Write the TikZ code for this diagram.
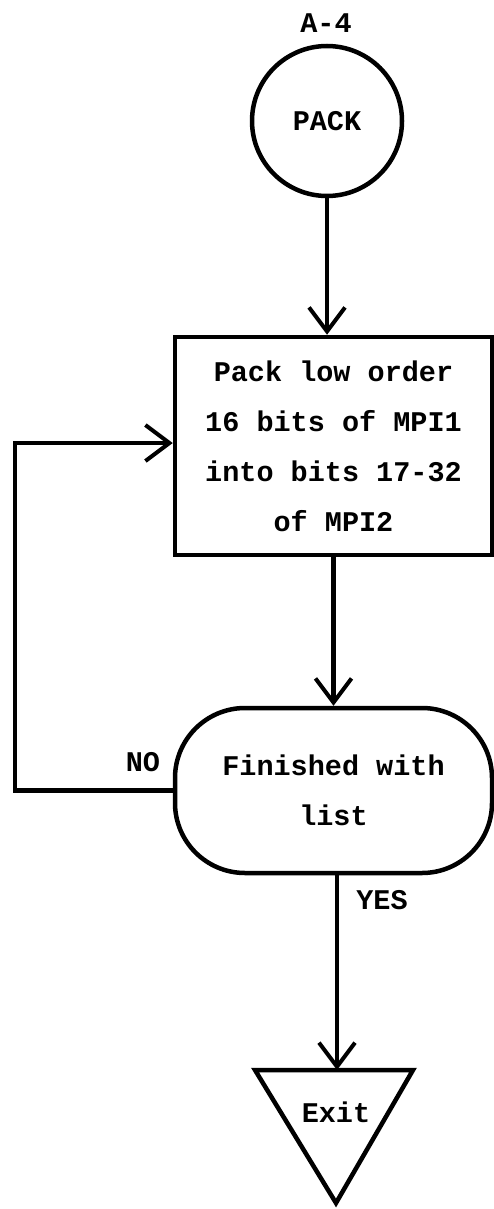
\documentclass[tikz,border=0pt]{standalone}
\usepackage{fontspec}
\setmonofont{Liberation Mono}
\usetikzlibrary{arrows.meta}
\begin{document}
\begin{tikzpicture}[x=1pt,y=-1pt,
  txt/.style={font=\ttfamily\bfseries\fontsize{28.5}{50}\selectfont, inner sep=0pt},
  line/.style={line width=4.5pt},
  arr/.style={line, -{Straight Barb[length=24pt,width=36pt,line width=4pt]}},
]
\useasboundingbox (0,0) rectangle (494,1209);
\node[txt] (lbl) at (326,23) {A-4};
\node[draw, line, circle, minimum size=150pt, txt] (pack) at (327,121) {PACK};
\node[draw, line, minimum width=317pt, minimum height=218pt, txt, align=center] (box) at (333.5,446) {Pack low order\\16 bits of MPI1\\into bits 17-32\\of MPI2};
\node[draw, line, rounded corners=70pt, minimum width=317pt, minimum height=165pt, txt, align=center] (term) at (333.5,790.5) {Finished with\\list};
\coordinate (exittop) at (337,1070);
\coordinate (loopc) at (15,443);
\draw[line, line join=miter] (255,1070) -- (413,1070) -- (336,1203) -- cycle;
\node[txt] (exit) at (336,1112) {Exit};
\node[txt] (no) at (143,762) {NO};
\node[txt] (yes) at (382,900) {YES};
\draw[arr] (pack.south) -- (pack.south |- box.north);
\draw[arr] (box.south) -- (term.north);
\draw[arr] (term.south -| exittop) -- (exittop);
\draw[arr] (term.west) -| (loopc) -- (box.west |- loopc);
\end{tikzpicture}
\end{document}
